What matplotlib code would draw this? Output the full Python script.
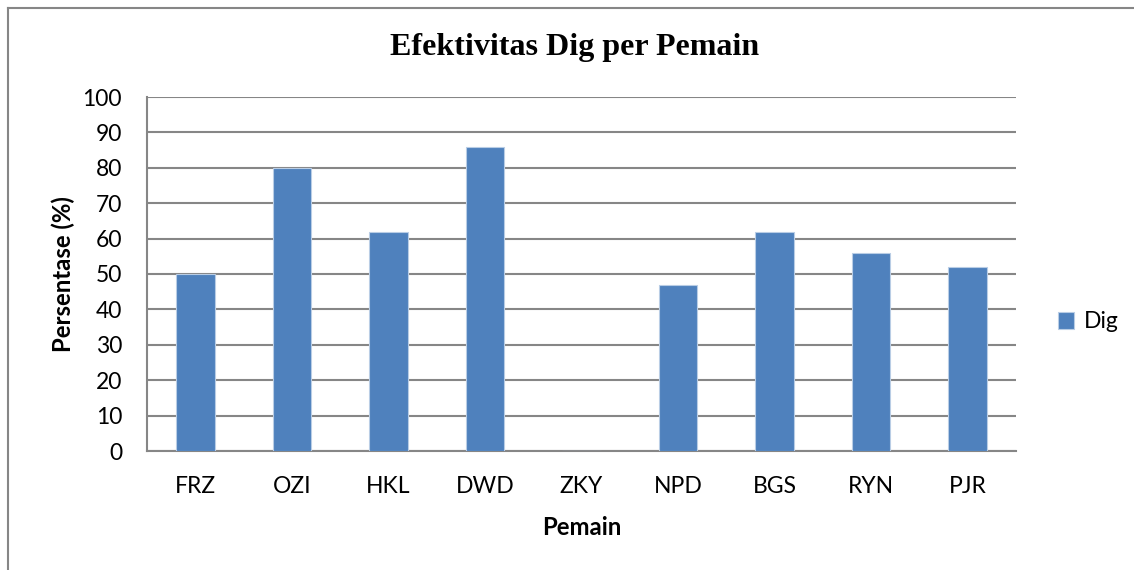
import matplotlib.pyplot as plt
from matplotlib.lines import Line2D

players = ["FRZ", "OZI", "HKL", "DWD", "ZKY", "NPD", "BGS", "RYN", "PJR"]
dig = [50, 80, 62, 86, 0, 47, 62, 56, 52]
yticks = [0, 10, 20, 30, 40, 50, 60, 70, 80, 90, 100]

bar_color = "#4F81BD"
grid_color = "#868686"

fig = plt.figure(figsize=(11.34, 5.70), dpi=100)

# outer chart frame (extends past the right and bottom edge of the crop)
fig.add_artist(Line2D([8 / 1134, 8 / 1134], [0, 1 - 8 / 570], color=grid_color, lw=1.5))
fig.add_artist(Line2D([8 / 1134, 1], [1 - 8 / 570, 1 - 8 / 570], color=grid_color, lw=1.5))

ax = fig.add_axes([147 / 1134, 119 / 570, 869 / 1134, 354 / 570])
x = range(len(players))
ax.bar(x, dig, width=0.4, color=bar_color, edgecolor="#b9cde5", linewidth=0.8, zorder=3,
       label="Dig")

ax.set_xlim(-0.5, len(players) - 0.5)
ax.set_ylim(0, 100)
ax.set_yticks(yticks)
ax.set_xticks(list(x))
ax.set_xticklabels(players, family="Lato", fontsize=16.5)
ax.set_yticklabels([str(v) for v in yticks], family="Lato", fontsize=16.5)
ax.tick_params(axis="x", length=0, pad=18)
ax.tick_params(axis="y", length=0, pad=18)
ax.yaxis.grid(True, color=grid_color, lw=1.5, zorder=0)
for s in ["top", "right"]:
    ax.spines[s].set_visible(False)
for s in ["left", "bottom"]:
    ax.spines[s].set_color(grid_color)
    ax.spines[s].set_linewidth(1.5)

ax.set_xlabel("Pemain", family="Lato", fontsize=17.2, fontweight="bold", labelpad=14)
ax.set_ylabel("Persentase (%)", family="Lato", fontsize=17.2, fontweight="bold", labelpad=5)

fig.text(575 / 1134, 1 - 48 / 570, "Efektivitas Dig per Pemain", family="Liberation Serif",
         fontsize=23, fontweight="bold", ha="center", va="center")

fig.legend(loc="center left", bbox_to_anchor=(1049 / 1134, 1 - 322 / 570), frameon=False,
           prop={"family": "Lato", "size": 16.5}, handlelength=0.7, handleheight=0.7,
           handletextpad=0.4, borderaxespad=0)

fig.savefig("out.png", dpi=100)
